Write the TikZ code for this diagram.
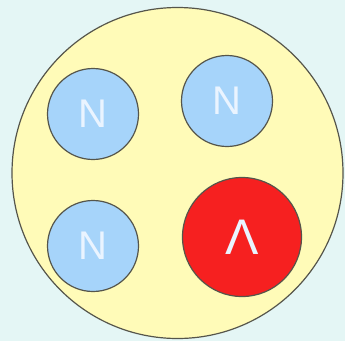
\documentclass[tikz,border=0pt]{standalone}
\usepackage{fontspec}
\setmainfont{Liberation Sans}
\definecolor{bgcyan}{HTML}{E4F6F5}
\definecolor{nucyellow}{HTML}{FFFBB8}
\definecolor{nblue}{HTML}{A6D4FA}
\definecolor{lred}{HTML}{F62020}
\definecolor{rimgray}{HTML}{55554B}
\definecolor{lettercol}{HTML}{EAF4FF}
\tikzset{
  nucleus/.style={circle,draw=rimgray,line width=1.2pt,fill=nucyellow,inner sep=0pt,minimum size=331pt},
  nucleon/.style={circle,draw=rimgray,line width=1.2pt,fill=nblue,inner sep=0pt,minimum size=91pt,
    text=lettercol,font=\fontsize{40}{40}\selectfont},
  hyperon/.style={nucleon,fill=lred,minimum size=119pt,font=\fontsize{50}{50}\selectfont}
}
\begin{document}
\begin{tikzpicture}[x=1pt,y=-1pt]
  \fill[bgcyan] (0,0) rectangle (345,341);
  \useasboundingbox (0,0) rectangle (345,341);
  \node[nucleus] (core) at (177.5,173) {};
  \node[nucleon] (n1) at (93,114) {N};
  \node[nucleon] (n2) at (227,101) {N};
  \node[nucleon] (n3) at (93,246) {N};
  \node[hyperon] (lam) at (242,237) {Λ};
\end{tikzpicture}
\end{document}
